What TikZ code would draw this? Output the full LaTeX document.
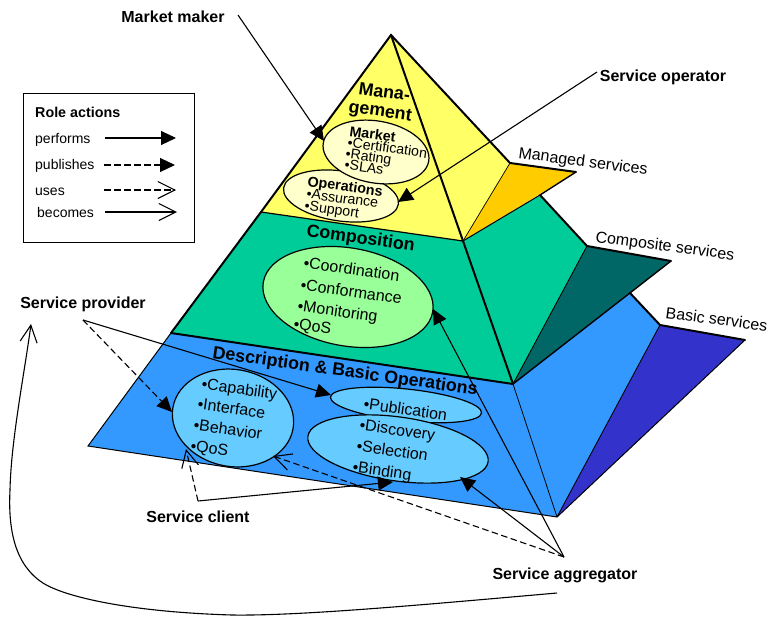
\documentclass[tikz,border=0pt]{standalone}
\usepackage{fontspec}
\setmainfont{Liberation Sans}
\usetikzlibrary{arrows.meta,shapes.geometric}
\definecolor{cyel}{HTML}{FFFF66}
\definecolor{corg}{HTML}{FFCC00}
\definecolor{cteal}{HTML}{00CC99}
\definecolor{cdteal}{HTML}{006666}
\definecolor{cblue}{HTML}{3399FF}
\definecolor{cdblue}{HTML}{3333CC}
\definecolor{clyel}{HTML}{FFFFCC}
\definecolor{clgrn}{HTML}{99FF99}
\definecolor{clblu}{HTML}{66CCFF}
\tikzset{
  heavy/.style={line width=2pt,line cap=round},
  oval/.style={ellipse,draw=black,line width=1.2pt,inner sep=0pt,outer sep=0pt},
  role/.style={font=\fontsize{16}{16}\selectfont\bfseries,inner sep=0pt},
  ltxt/.style={font=\fontsize{14}{14}\selectfont,inner sep=0pt,anchor=base west},
  ltitle/.style={font=\fontsize{14.3}{14}\selectfont\bfseries,inner sep=0pt,anchor=base west},
  item/.style={font=\fontsize{16}{16}\selectfont,inner sep=0pt,anchor=base west,rotate=-8},
  sitem/.style={font=\fontsize{14.2}{14}\selectfont,inner sep=0pt,anchor=base west,rotate=-8},
  shead/.style={font=\fontsize{14.3}{14}\selectfont\bfseries,inner sep=0pt,anchor=base west,rotate=-8},
  title/.style={font=\fontsize{17.8}{18}\selectfont\bfseries,inner sep=0pt,anchor=base west,rotate=-8},
  side/.style={font=\fontsize{16}{16}\selectfont,inner sep=0pt,anchor=base west,rotate=-7.5},
  performs/.style={line width=1.1pt,-{Triangle[length=15pt,width=14pt]}},
  publishes/.style={line width=1.1pt,dash pattern=on 6.5pt off 3.5pt,-{Triangle[length=15pt,width=14pt]}},
  usesarrow/.style={line width=1.1pt,dash pattern=on 6.5pt off 3.5pt,-{Straight Barb[length=17pt,width=17pt,line width=1.1pt]}},
  becomes/.style={line width=1.1pt,-{Straight Barb[length=17pt,width=17pt,line width=1.1pt]}},
}
\begin{document}
\begin{tikzpicture}[x=1pt,y=-1pt]
\useasboundingbox (0,0) rectangle (768,616);
% pyramid faces
\coordinate (apex) at (391,35);
\coordinate (yl) at (261,212);
\coordinate (yf) at (463,241);
\coordinate (yr) at (510,163);
\coordinate (ot) at (576,172);
\coordinate (tr) at (540,195);
\coordinate (tc) at (587,246);
\coordinate (tf) at (513,384);
\coordinate (tl) at (171,333);
\coordinate (dt) at (671,261);
\coordinate (br) at (630,293);
\coordinate (bc) at (660,325);
\coordinate (bl) at (88,446);
\coordinate (bf) at (557,517);
\coordinate (db) at (745,340);
\fill[cyel] (apex) -- (yr) -- (yf) -- (yl) -- cycle;
\fill[corg] (yr) -- (ot) -- (yf) -- cycle;
\fill[cteal] (yl) -- (yf) -- (tf) -- (tl) -- cycle;
\fill[cteal] (yf) -- (tr) -- (tc) -- (tf) -- cycle;
\fill[cdteal] (tc) -- (dt) -- (tf) -- cycle;
\fill[cblue] (tl) -- (tf) -- (bf) -- (bl) -- cycle;
\fill[cblue] (tf) -- (br) -- (bc) -- (bf) -- cycle;
\fill[cdblue] (bc) -- (db) -- (bf) -- cycle;
% edges
\draw[line width=.7pt] (yr) -- (yf);
\draw[line width=1pt] (yf) -- (tr);
\draw[line width=.9pt] (tc) -- (tf);
\draw[line width=.9pt] (bc) -- (bf);
\draw[line width=.8pt] (tf) -- (bf);
\draw[line width=1pt] (tl) -- (bl) -- (bf) -- (db);
\draw[line width=1.2pt] (yl) -- (yf);
\draw[line width=1.4pt] (tr) -- (ot);
\draw[line width=1.4pt] (tf) -- (dt);
\draw[heavy] (tl) -- (yl) -- (apex) -- (yr) -- (ot);
\draw[heavy] (tr) -- (tc) -- (dt);
\draw[heavy] (br) -- (bc) -- (db);
\draw[heavy] (tl) -- (tf);
\draw[heavy] (apex) -- (tf);
% ovals
\node[oval,fill=clyel,minimum width=116pt,minimum height=50pt,rotate=-8] (ops) at (341,196) {};
\node[oval,fill=clyel,minimum width=107pt,minimum height=62pt,rotate=-10] (mkt) at (376,152) {};
\node[oval,fill=clgrn,minimum width=172pt,minimum height=98pt,rotate=-10] (comp) at (348,297) {};
\node[oval,fill=clblu,minimum width=122pt,minimum height=97pt,rotate=-10] (cap) at (233,418) {};
\node[oval,fill=clblu,minimum width=152pt,minimum height=32pt,rotate=-6] (pub) at (406,405) {};
\node[oval,fill=clblu,minimum width=182pt,minimum height=64pt,rotate=-8] (disc) at (398,449) {};
% titles
\node[title] (t1a) at (358,94) {Mana-};
\node[title] (t1b) at (348,112) {gement};
\node[title] (t2) at (306,236) {Composition};
\node[title] (t3) at (212,358) {Description \& Basic Operations};
% management items
\node[shead] (m0) at (349,136) {Market};
\node[sitem] (m1) at (347,147) {•Certification};
\node[sitem] (m2) at (345,158) {•Rating};
\node[sitem] (m3) at (344,169) {•SLAs};
\node[shead] (o0) at (307,186) {Operations};
\node[sitem] (o1) at (306,198) {•Assurance};
\node[sitem] (o2) at (304,210) {•Support};
% composition items
\node[item] (c1) at (303,268) {•Coordination};
\node[item] (c2) at (300,290) {•Conformance};
\node[item] (c3) at (297,311) {•Monitoring};
\node[item] (c4) at (293,329) {•QoS};
% description items
\node[item] (d1) at (201,389) {•Capability};
\node[item] (d2) at (197,409) {•Interface};
\node[item] (d3) at (193,430) {•Behavior};
\node[item] (d4) at (190,451) {•QoS};
\node[item] (p1) at (363,409) {•Publication};
\node[item] (p2) at (359,430) {•Discovery};
\node[item] (p3) at (356,451) {•Selection};
\node[item] (p4) at (352,472) {•Binding};
% side labels
\node[side] (s1) at (518,158) {Managed services};
\node[side] (s2) at (595,242) {Composite services};
\node[side] (s3) at (665,318) {Basic services};
% roles
\node[role] (rmm) at (173,17) {Market maker};
\node[role] (rop) at (663,77) {Service operator};
\node[role] (rsp) at (83,304) {Service provider};
\node[role] (rsc) at (198,517) {Service client};
\node[role] (rsa) at (565,575) {Service aggregator};
% connector end points
\coordinate (mmfrom) at (238,15);
\coordinate (mmto) at (324,141);
\coordinate (opfrom) at (597,72);
\coordinate (opto) at (398,202);
\coordinate (spfrom) at (83,320);
\coordinate (spcap) at (172,412);
\coordinate (sppub) at (331,395);
\coordinate (scmid) at (198,501);
\coordinate (sccap) at (186,449);
\coordinate (scdisc) at (393,482);
\coordinate (safrom) at (564,557);
\coordinate (sadisc) at (460,477);
\coordinate (sacomp) at (433,309);
\coordinate (sacap) at (273,456);
\coordinate (beg) at (557,593);
\coordinate (bend) at (31,324);
% connectors
\draw[performs] (mmfrom) -- (mmto);
\draw[performs] (opfrom) -- (opto);
\draw[publishes] (spfrom) -- (spcap);
\draw[performs] (spfrom) -- (sppub);
\draw[usesarrow] (scmid) -- (sccap);
\draw[performs] (scmid) -- (scdisc);
\draw[performs] (safrom) -- (sadisc);
\draw[performs] (safrom) -- (sacomp);
\draw[usesarrow] (safrom) -- (sacap);
\draw[becomes] (beg) .. controls (420,605) and (300,616) .. (232,615)
  .. controls (130,612) and (65,597) .. (43,583)
  .. controls (15,565) and (8,530) .. (10,490)
  .. controls (11,440) and (25,370) .. (bend);
% legend
\node[draw=black,line width=1pt,minimum width=171pt,minimum height=149pt,inner sep=0pt] (legend) at (108.5,167.5) {};
\node[ltitle] (lt) at (35,117) {Role actions};
\node[ltxt] (l1) at (35,143) {performs};
\node[ltxt] (l2) at (35,169) {publishes};
\node[ltxt] (l3) at (35,195) {uses};
\node[ltxt] (l4) at (37,217) {becomes};
\coordinate (l1a) at (105,138);\coordinate (l1b) at (176,138);
\coordinate (l2a) at (104,165);\coordinate (l2b) at (175,165);
\coordinate (l3a) at (104,190);\coordinate (l3b) at (176,190);
\coordinate (l4a) at (105,212);\coordinate (l4b) at (177,212);
\draw[performs] (l1a) -- (l1b);
\draw[publishes] (l2a) -- (l2b);
\draw[usesarrow] (l3a) -- (l3b);
\draw[becomes] (l4a) -- (l4b);
\end{tikzpicture}
\end{document}
